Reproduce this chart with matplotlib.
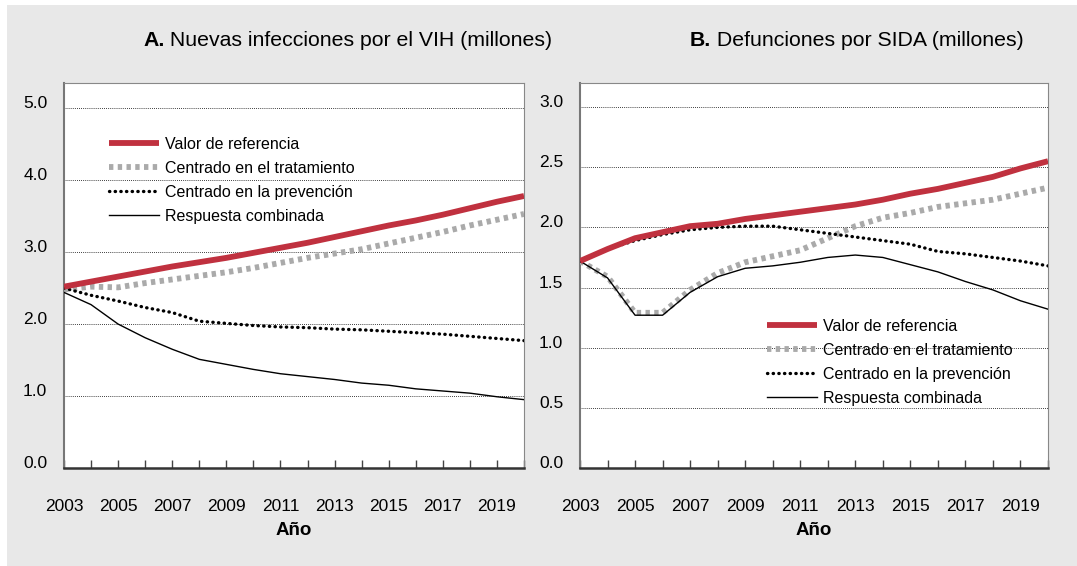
import matplotlib

matplotlib.use("Agg")
import matplotlib.pyplot as plt
from matplotlib.patches import Rectangle
from matplotlib.ticker import FormatStrFormatter

plt.rcParams["font.family"] = ["Liberation Sans", "DejaVu Sans"]

years = list(range(2003, 2021))
series_labels = [
    "Valor de referencia",
    "Centrado en el tratamiento",
    "Centrado en la prevención",
    "Respuesta combinada",
]

# Panel A: new HIV infections (millions)
inf_referencia = [2.52, 2.59, 2.66, 2.73, 2.80, 2.86, 2.92, 2.99, 3.06, 3.13,
                  3.21, 3.29, 3.37, 3.44, 3.52, 3.61, 3.70, 3.78]
inf_tratamiento = [2.48, 2.52, 2.51, 2.57, 2.62, 2.67, 2.72, 2.78, 2.85, 2.92,
                   2.98, 3.04, 3.12, 3.20, 3.28, 3.37, 3.45, 3.53]
inf_prevencion = [2.50, 2.40, 2.32, 2.23, 2.16, 2.04, 2.01, 1.98, 1.96, 1.95,
                  1.93, 1.92, 1.90, 1.88, 1.86, 1.83, 1.80, 1.77]
inf_combinada = [2.44, 2.27, 2.00, 1.81, 1.65, 1.51, 1.44, 1.37, 1.31, 1.27,
                 1.23, 1.18, 1.15, 1.10, 1.07, 1.04, 0.99, 0.95]

# Panel B: AIDS deaths (millions)
def_referencia = [1.72, 1.82, 1.91, 1.96, 2.01, 2.03, 2.07, 2.10, 2.13, 2.16,
                  2.19, 2.23, 2.28, 2.32, 2.37, 2.42, 2.49, 2.55]
def_tratamiento = [1.72, 1.59, 1.29, 1.29, 1.48, 1.62, 1.71, 1.76, 1.81, 1.91,
                   2.01, 2.08, 2.12, 2.17, 2.20, 2.23, 2.28, 2.33]
def_prevencion = [1.72, 1.82, 1.89, 1.94, 1.98, 2.00, 2.01, 2.01, 1.98, 1.95,
                  1.92, 1.89, 1.86, 1.80, 1.78, 1.75, 1.72, 1.68]
def_combinada = [1.72, 1.58, 1.27, 1.27, 1.46, 1.59, 1.66, 1.68, 1.71, 1.75,
                 1.77, 1.75, 1.69, 1.63, 1.55, 1.48, 1.39, 1.32]

year_ticks = list(range(2003, 2020, 2))
yticks_a = [0.0, 1.0, 2.0, 3.0, 4.0, 5.0]
yticks_b = [0.0, 0.5, 1.0, 1.5, 2.0, 2.5, 3.0]

RED = "#c0313f"
GRAY = "#aaaaaa"
BG = "#e8e8e8"
W, H = 1077, 566

fig = plt.figure(figsize=(W / 100, H / 100), dpi=100)
fig.patch.set_facecolor("white")
fig.patches.append(
    Rectangle((7 / W, 0), 1 - 7 / W, 1 - 5 / H, transform=fig.transFigure,
              facecolor=BG, edgecolor="none", zorder=-10)
)


def px_axes(left, top, right, bottom):
    return fig.add_axes([left / W, 1 - bottom / H, (right - left) / W, (bottom - top) / H])


def draw_panel(ax, values, ymax, yticks, legend_xy):
    styles = [
        dict(color=RED, lw=4.2, ls="-", solid_capstyle="butt"),
        dict(color=GRAY, lw=4.2, ls=(0, (0.75, 0.75))),
        dict(color="black", lw=2.4, ls=(0, (0.1, 1.6)), dash_capstyle="round"),
        dict(color="black", lw=1.0, ls="-"),
    ]
    handles = {}
    for i in [1, 2, 3, 0]:
        (line,) = ax.plot(years, values[i], label=series_labels[i],
                          zorder=3 + (i == 0), **styles[i])
        handles[i] = line
    ax.set_xlim(2003, 2020)
    ax.set_ylim(0, ymax)
    ax.set_yticks(yticks)
    ax.yaxis.set_major_formatter(FormatStrFormatter("%.1f"))
    ax.set_xticks(year_ticks)
    ax.set_xticks(years, minor=True)
    ax.tick_params(axis="x", which="both", direction="in", length=6, width=1,
                   color="#444444", pad=22, labelsize=12.5)
    ax.tick_params(axis="y", length=0, pad=12, labelsize=12.5)
    for lab in ax.get_yticklabels():
        lab.set_verticalalignment("baseline")
    ax.grid(axis="y", which="major", color="black", ls=(0, (1, 1.5)), lw=0.6)
    for side in ("top", "right"):
        ax.spines[side].set_color("#888888")
        ax.spines[side].set_linewidth(0.8)
    ax.spines["left"].set_color("#777777")
    ax.spines["left"].set_linewidth(1.5)
    ax.spines["bottom"].set_color("#333333")
    ax.spines["bottom"].set_linewidth(1.8)
    ax.set_xlabel("Año", fontsize=13.5, fontweight="bold", labelpad=6)
    ax.legend([handles[i] for i in range(4)], series_labels, loc="upper left",
              bbox_to_anchor=(legend_xy[0] / W, 1 - legend_xy[1] / H),
              bbox_transform=fig.transFigure, frameon=False, fontsize=11.5,
              handlelength=3.1, handletextpad=0.4, labelspacing=0.56, borderpad=0)


ax_a = px_axes(64, 83, 524, 468)
draw_panel(ax_a, [inf_referencia, inf_tratamiento, inf_prevencion, inf_combinada],
           5.35, yticks_a, (101, 129))

ax_b = px_axes(580, 83, 1048, 468)
draw_panel(ax_b, [def_referencia, def_tratamiento, def_prevencion, def_combinada],
           3.2, yticks_b, (759, 311))

renderer = fig.canvas.get_renderer()
for x, bold, rest in ((143, "A.", " Nuevas infecciones por el VIH (millones)"),
                      (690, "B.", " Defunciones por SIDA (millones)")):
    t = fig.text(x / W, 1 - 41 / H, bold, ha="left", va="center",
                 fontsize=15.3, fontweight="bold")
    ext = t.get_window_extent(renderer)
    fig.text(ext.x1 / W, 1 - 41 / H, rest, ha="left", va="center", fontsize=15.3)

fig.savefig("out.png", dpi=100, facecolor=fig.get_facecolor())
